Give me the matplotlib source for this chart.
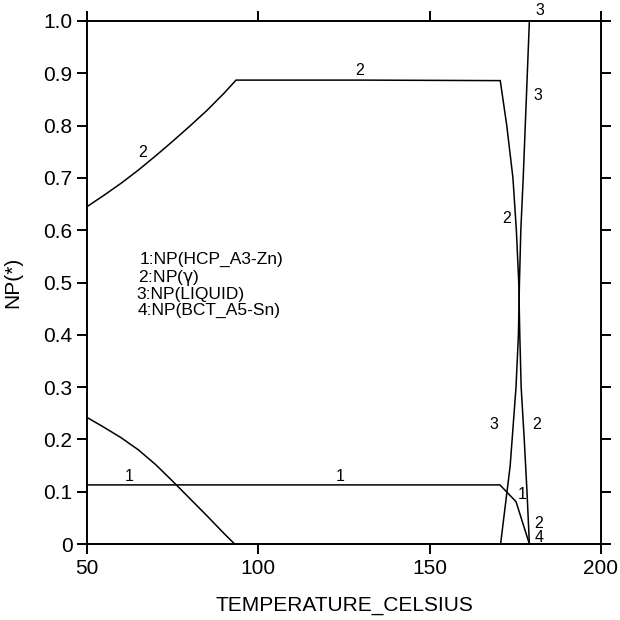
import numpy as np
import matplotlib
matplotlib.use("Agg")
import matplotlib.pyplot as plt

plt.rcParams['font.family'] = ['Liberation Sans', 'DejaVu Sans']
plt.rcParams['mathtext.fontset'] = 'dejavusans'

# phase 1: HCP_A3-Zn
t_hcp = [50, 100, 150, 170.5, 175.2, 179.1]
np_hcp = [0.113, 0.113, 0.113, 0.113, 0.081, 0.0]

# phase 2: gamma
t_gam = [50, 55, 60, 65, 70, 75, 80, 85, 90, 93.5, 130, 170.6, 172.5, 174.3,
         175.3, 176.0, 176.3, 176.7, 177.6, 178.4, 179.1]
np_gam = [0.645, 0.667, 0.690, 0.715, 0.742, 0.770, 0.799, 0.829, 0.862, 0.887,
          0.887, 0.886, 0.80, 0.70, 0.60, 0.50, 0.40, 0.30, 0.20, 0.10, 0.0]

# phase 3: liquid
t_liq = [170.7, 173.5, 175.2, 175.9, 176.2, 176.6, 177.3, 178.2, 179.1]
np_liq = [0.0, 0.15, 0.30, 0.40, 0.50, 0.60, 0.70, 0.85, 1.0]

# phase 4: BCT_A5-Sn
t_bct = [179.1, 200]
np_bct = [0.0, 0.0]

# unlabeled curve decreasing to zero at ~93 C
t_low = [50, 55, 60, 65, 70, 75, 80, 85, 90, 93.1]
np_low = [0.242, 0.223, 0.203, 0.180, 0.152, 0.120, 0.087, 0.054, 0.020, 0.0]

# curve labels: (text, T, NP)
curve_labels = [("2", 66.2, 0.748), ("2", 129.7, 0.906), ("1", 62.3, 0.129),
                ("1", 123.8, 0.129), ("3", 182.2, 1.02), ("3", 181.6, 0.857),
                ("2", 172.4, 0.623), ("3", 168.8, 0.228), ("2", 181.2, 0.228),
                ("1", 177.1, 0.094), ("2", 181.8, 0.040), ("4", 181.8, 0.012)]

legend_lines = ["1:NP(HCP_A3-Zn)", "2:NP($\\mathrm{\\gamma}$)", "3:NP(LIQUID)", "4:NP(BCT_A5-Sn)"]
legend_x = [65.4, 64.9, 64.4, 64.7]
legend_y = [0.545, 0.509, 0.477, 0.447]

fig = plt.figure(figsize=(6.2, 6.2), dpi=100)
ax = fig.add_axes([87 / 620, 76 / 620, 514 / 620, 523 / 620])

lw = 1.1
for t, v in [(t_hcp, np_hcp), (t_gam, np_gam), (t_liq, np_liq), (t_bct, np_bct), (t_low, np_low)]:
    ax.plot(t, v, color='black', lw=lw, clip_on=False, solid_joinstyle='miter')

for txt, t, v in curve_labels:
    ax.text(t, v, txt, fontsize=11.5, ha='center', va='center', color='black')

for txt, x, y in zip(legend_lines, legend_x, legend_y):
    ax.text(x, y, txt, fontsize=12.5, ha='left', va='center', color='black')

ax.set_xlim(50, 200)
ax.set_ylim(0, 1.0)
ax.set_xticks([50, 100, 150, 200])
ax.set_yticks(np.round(np.arange(0, 1.01, 0.1), 1))
ax.set_yticklabels(["0", "0.1", "0.2", "0.3", "0.4", "0.5", "0.6", "0.7", "0.8", "0.9", "1.0"])

for s in ax.spines.values():
    s.set_linewidth(1.4)
ax.tick_params(direction='out', length=7.5, width=1.4, labelsize=15,
               top=True, right=True, labeltop=False, labelright=False, pad=3)

ax.set_xlabel("TEMPERATURE_CELSIUS", fontsize=15)
ax.set_ylabel("NP(*)", fontsize=15)
ax.xaxis.set_label_coords(0.5, -0.1)
ax.yaxis.set_label_coords(-0.126, 0.5)

fig.savefig("out.png", dpi=100)
